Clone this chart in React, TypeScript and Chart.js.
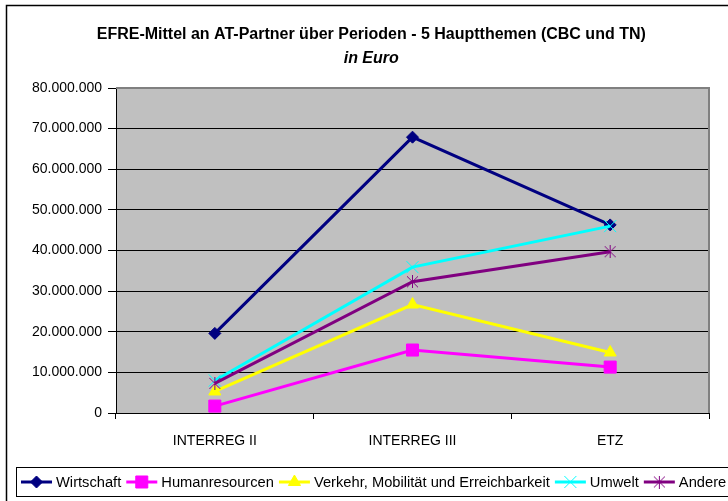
import React, { useEffect, useRef } from "react";
import { Chart, registerables } from "chart.js";
import { drawPoint } from "chart.js/helpers";

Chart.register(...registerables);

// ---- data ----
const categories = ["INTERREG II", "INTERREG III", "ETZ"];
const seriesNames = [
  "Wirtschaft",
  "Humanresourcen",
  "Verkehr, Mobilität und Erreichbarkeit",
  "Umwelt",
  "Andere",
];
const wirtschaft = [19.6e6, 67.9e6, 46.3e6];
const humanresourcen = [1.7e6, 15.5e6, 11.3e6];
const verkehr = [5.3e6, 26.7e6, 14.9e6];
const umwelt = [8.0e6, 35.9e6, 46.0e6];
const andere = [7.3e6, 32.3e6, 39.7e6];
const yMin = 0;
const yMax = 80e6;
const yStep = 10e6;
const titleText = "EFRE-Mittel an AT-Partner über Perioden - 5 Hauptthemen (CBC und TN)";
const subtitleText = "in Euro";

// ---- styles ----
const colors = ["#000080", "#FF00FF", "#FFFF00", "#00FFFF", "#800080"];
const FONT = "'Liberation Sans', Arial, sans-serif";

function fmt(v: number): string {
  return String(Math.round(v)).replace(/\B(?=(\d{3})+(?!\d))/g, ".");
}

function makeAsterisk(color: string, size: number): HTMLCanvasElement {
  const c = document.createElement("canvas");
  c.width = size;
  c.height = size;
  const g = c.getContext("2d")!;
  g.strokeStyle = color;
  g.lineWidth = 1;
  const m = size / 2;
  g.beginPath();
  g.moveTo(1, 1);
  g.lineTo(size - 1, size - 1);
  g.moveTo(size - 1, 1);
  g.lineTo(1, size - 1);
  g.moveTo(m, 0);
  g.lineTo(m, size);
  g.stroke();
  return c;
}

export default function App() {
  const ref = useRef<HTMLCanvasElement | null>(null);

  useEffect(() => {
    const canvas = ref.current;
    if (!canvas) return;

    const asterisk = makeAsterisk(colors[4], 13);
    const markers: any[] = [
      { pointStyle: "rectRot", radius: 6, borderWidth: 1 },
      { pointStyle: "rect", radius: 8.5, borderWidth: 1 },
      { pointStyle: "triangle", radius: 7, borderWidth: 1 },
      { pointStyle: "crossRot", radius: 8.5, borderWidth: 1 },
      { pointStyle: asterisk, radius: 7, borderWidth: 1 },
    ];
    const values = [wirtschaft, humanresourcen, verkehr, umwelt, andere];

    const datasets = values.map((d, i) => ({
      label: seriesNames[i],
      data: d,
      borderColor: colors[i],
      backgroundColor: colors[i],
      borderWidth: 3,
      tension: 0,
      fill: false,
      order: values.length - i,
      clip: false as any,
      pointStyle: markers[i].pointStyle,
      pointRadius: markers[i].radius,
      pointBorderWidth: markers[i].borderWidth,
      pointBackgroundColor: colors[i],
      pointBorderColor: colors[i],
    }));

    const outer = { left: 6.5, top: 5.5, right: 736, bottom: 520 };

    const decor = {
      id: "decor",
      beforeDraw(chart: any) {
        const { ctx, chartArea: a } = chart;
        ctx.save();
        ctx.fillStyle = "#FFFFFF";
        ctx.fillRect(0, 0, chart.width, chart.height);
        ctx.fillStyle = "#C0C0C0";
        ctx.fillRect(a.left, a.top, a.right - a.left, a.bottom - a.top);
        ctx.restore();
      },
      beforeDatasetsDraw(chart: any) {
        const { ctx, chartArea: a } = chart;
        ctx.save();
        ctx.strokeStyle = "#808080";
        ctx.lineWidth = 2;
        ctx.beginPath();
        ctx.moveTo(a.left, a.top);
        ctx.lineTo(a.right, a.top);
        ctx.lineTo(a.right, a.bottom);
        ctx.stroke();
        ctx.restore();
      },
      afterDraw(chart: any) {
        const ctx = chart.ctx as CanvasRenderingContext2D;
        ctx.save();
        // outer frame
        ctx.strokeStyle = "#000000";
        ctx.lineWidth = 1.5;
        ctx.strokeRect(outer.left, outer.top, outer.right - outer.left, outer.bottom - outer.top);

        // title
        const cx = (outer.left + outer.right) / 2;
        ctx.fillStyle = "#000000";
        ctx.textAlign = "center";
        ctx.textBaseline = "alphabetic";
        ctx.font = `bold 16px ${FONT}`;
        ctx.fillText(titleText, cx, 39);
        ctx.font = `italic bold 16px ${FONT}`;
        ctx.fillText(subtitleText, cx, 63);

        // legend
        const box = { left: 16.5, top: 467.5, right: 745, bottom: 496.5 };
        ctx.strokeStyle = "#000000";
        ctx.lineWidth = 1;
        ctx.strokeRect(box.left, box.top, box.right - box.left, box.bottom - box.top);
        ctx.font = `14.7px ${FONT}`;
        ctx.textAlign = "left";
        const midY = (box.top + box.bottom) / 2;
        let x = 21;
        const lineLen = 31;
        chart.data.datasets.forEach((ds: any) => {
          ctx.strokeStyle = ds.borderColor;
          ctx.lineWidth = 3;
          ctx.beginPath();
          ctx.moveTo(x, midY);
          ctx.lineTo(x + lineLen, midY);
          ctx.stroke();
          ctx.fillStyle = ds.pointBackgroundColor;
          ctx.strokeStyle = ds.pointBorderColor;
          ctx.lineWidth = ds.pointBorderWidth;
          drawPoint(ctx, { pointStyle: ds.pointStyle, radius: ds.pointRadius, rotation: 0, borderWidth: ds.pointBorderWidth } as any, x + lineLen / 2, midY);
          ctx.fillStyle = "#000000";
          const tx = x + lineLen + 4;
          ctx.fillText(ds.label, tx, 487);
          x = tx + ctx.measureText(ds.label).width + 5;
        });
        ctx.restore();
      },
    };

    const chart = new Chart(canvas, {
      type: "line",
      data: { labels: categories, datasets: datasets as any },
      options: {
        responsive: false,
        animation: false,
        devicePixelRatio: 1,
        layout: { padding: { left: 0, top: 88, right: 19, bottom: 48 } },
        plugins: {
          legend: { display: false },
          title: { display: false },
          tooltip: { enabled: false },
        },
        scales: {
          x: {
            type: "category",
            offset: true,
            grid: {
              offset: true,
              drawOnChartArea: false,
              drawTicks: true,
              tickLength: 6,
              tickColor: "#000000",
              color: "#000000",
            },
            border: { display: true, color: "#000000", width: 1 },
            ticks: {
              color: "#000000",
              font: { family: FONT, size: 14 },
              padding: 14,
              maxRotation: 0,
              autoSkip: false,
            },
            afterFit(scale: any) {
              scale.height = 40;
            },
          },
          y: {
            min: yMin,
            max: yMax,
            grid: {
              color: "#000000",
              lineWidth: 1,
              drawTicks: true,
              tickLength: 8,
              tickColor: "#000000",
            },
            border: { display: true, color: "#000000", width: 1 },
            ticks: {
              stepSize: yStep,
              color: "#000000",
              font: { family: FONT, size: 14 },
              padding: 6,
              callback: (v: any) => fmt(Number(v)),
            },
            afterFit(scale: any) {
              scale.width = 116;
            },
          },
        },
      },
      plugins: [decor],
    });

    return () => chart.destroy();
  }, []);

  return (
    <div style={{ position: "absolute", left: 0, top: 0, width: 728, height: 501, background: "#fff" }}>
      <canvas ref={ref} width={728} height={501} style={{ display: "block" }} />
    </div>
  );
}
